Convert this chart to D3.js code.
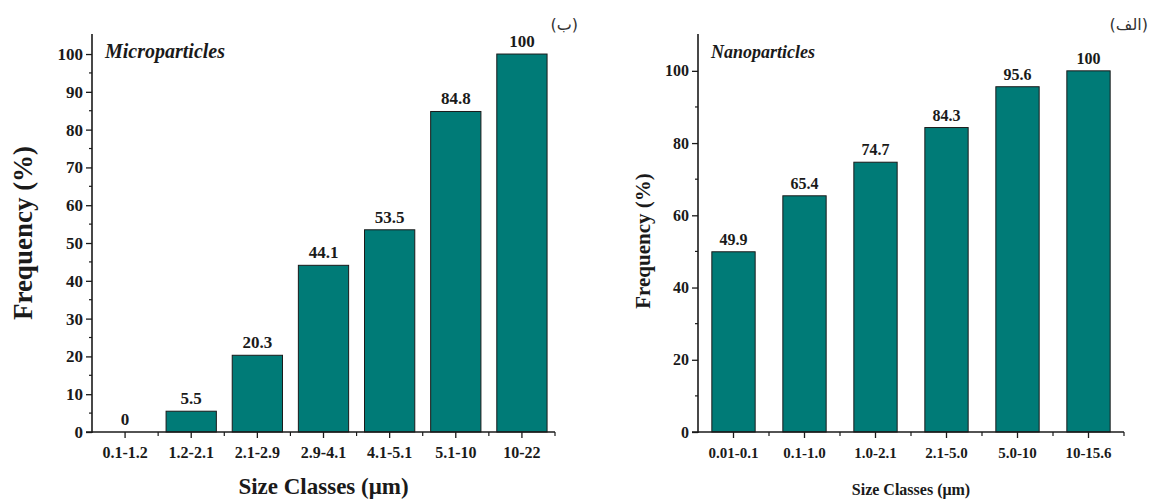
<!DOCTYPE html>
<html><head><meta charset="utf-8">
<script src="https://cdn.jsdelivr.net/npm/d3@7"></script>
<style>
body{margin:0;background:#fff;}
svg{display:block;font-family:"Liberation Serif","Times New Roman",serif;}
</style></head>
<body>
<svg id="c" width="1150" height="500"></svg>
<script>
// Microparticles (left panel, "ب")
const microCategories = ["0.1-1.2","1.2-2.1","2.1-2.9","2.9-4.1","4.1-5.1","5.1-10","10-22"];
const microValues = [0, 5.5, 20.3, 44.1, 53.5, 84.8, 100];
const microTicks = [0,10,20,30,40,50,60,70,80,90,100];
// Nanoparticles (right panel, "الف")
const nanoCategories = ["0.01-0.1","0.1-1.0","1.0-2.1","2.1-5.0","5.0-10","10-15.6"];
const nanoValues = [49.9, 65.4, 74.7, 84.3, 95.6, 100];
const nanoTicks = [0,20,40,60,80,100];

const barColor = "#007b77";
const ink = "#1a1a1a";
const svg = d3.select("#c");

function panel(o){
  const g = svg.append("g");
  const x = d3.scaleBand().domain(o.cats).range([o.x0, o.x1]).paddingInner(o.pad).paddingOuter(o.pad/2);
  const y = d3.scaleLinear().domain([0, o.ymax]).range([o.y0, o.y1]);
  g.selectAll("rect.bar").data(o.vals).enter().append("rect")
    .attr("x",(d,i)=>x(o.cats[i])).attr("width",x.bandwidth())
    .attr("y",d=>y(d)).attr("height",d=>o.y0-y(d))
    .attr("fill",barColor).attr("stroke",ink).attr("stroke-width",d=>d>0?1:0);
  g.selectAll("text.val").data(o.vals).enter().append("text")
    .attr("x",(d,i)=>x(o.cats[i])+x.bandwidth()/2).attr("y",d=>y(d)-o.valGap)
    .attr("text-anchor","middle").attr("font-weight","bold").attr("font-size",o.valFs).attr("fill",ink)
    .text(d=>d);
  const ya = d3.axisLeft(y).tickValues(o.ticks).tickSize(6).tickPadding(3);
  const yg = g.append("g").attr("transform",`translate(${o.x0},0)`).call(ya);
  yg.select(".domain").remove();
  yg.selectAll(".tick line").attr("stroke",ink).attr("stroke-width",1.3);
  yg.selectAll(".tick text").attr("font-family","Liberation Serif").attr("font-weight","bold").attr("font-size",o.tickFs).attr("fill",ink);
  g.selectAll("line.ym").data(o.minor).enter().append("line")
    .attr("x1",o.x0-3).attr("x2",o.x0).attr("y1",d=>y(d)).attr("y2",d=>y(d)).attr("stroke",ink).attr("stroke-width",1.2);
  g.append("line").attr("x1",o.x0).attr("x2",o.x0).attr("y1",o.y0+1).attr("y2",y(o.ymax)).attr("stroke",ink).attr("stroke-width",1.6);
  const xa = d3.axisBottom(x).tickSize(6).tickPadding(9).tickSizeOuter(0);
  const xg = g.append("g").attr("transform",`translate(0,${o.y0})`).call(xa);
  xg.select(".domain").remove();
  xg.selectAll(".tick line").attr("stroke",ink).attr("stroke-width",1.3);
  xg.selectAll(".tick text").attr("font-family","Liberation Serif").attr("font-weight","bold").attr("font-size",o.catFs).attr("fill",ink);
  const step = x.step();
  const bounds = d3.range(1, o.cats.length).map(i=>o.x0 + i*step);
  g.selectAll("line.xm").data(bounds).enter().append("line")
    .attr("x1",d=>d).attr("x2",d=>d).attr("y1",o.y0).attr("y2",o.y0+4).attr("stroke",ink).attr("stroke-width",1.2);
  g.append("line").attr("x1",o.x0-6).attr("x2",o.x1).attr("y1",o.y0).attr("y2",o.y0).attr("stroke",ink).attr("stroke-width",1.6);
  g.append("line").attr("x1",o.x1).attr("x2",o.x1).attr("y1",o.y0).attr("y2",o.y0+4).attr("stroke",ink).attr("stroke-width",1.2);
  g.append("text").attr("transform",`translate(${o.ylx},${(o.y0+y(o.ymax))/2+o.yloff}) rotate(-90)`)
    .attr("text-anchor","middle").attr("font-weight","bold").attr("font-size",o.ylFs).attr("fill",ink).text("Frequency (%)");
  g.append("text").attr("x",(o.x0+o.x1)/2).attr("y",o.xly)
    .attr("text-anchor","middle").attr("font-weight","bold").attr("font-size",o.xlFs).attr("fill",ink).text("Size Classes (\u03bcm)");
  g.append("text").attr("x",o.x0+13).attr("y",58)
    .attr("font-weight","bold").attr("font-style","italic").attr("font-size",o.nameFs).attr("fill",ink).text(o.name);
  g.append("text").attr("x",o.tagX).attr("y",30).attr("text-anchor","end")
    .attr("font-family","DejaVu Sans").attr("font-size",16).attr("fill","#333").text(o.tag);
}

panel({cats:microCategories, vals:microValues, ticks:microTicks, minor:d3.range(5,105,10),
  x0:92, x1:555, pad:0.24, y0:432, y1:34, ymax:105.3,
  valGap:7, valFs:17, tickFs:17, catFs:16, ylFs:27, xlFs:23, nameFs:20,
  ylx:32, yloff:0, xly:494, name:"Microparticles", tag:"(\u0628)", tagX:578});

panel({cats:nanoCategories, vals:nanoValues, ticks:nanoTicks, minor:d3.range(10,110,20),
  x0:698, x1:1124, pad:0.39, y0:432, y1:34, ymax:110.2,
  valGap:7, valFs:16, tickFs:16, catFs:15, ylFs:21, xlFs:16, nameFs:18,
  ylx:650, yloff:8, xly:495, name:"Nanoparticles", tag:"(\u0627\u0644\u0641)", tagX:1148});
</script>
</body></html>
